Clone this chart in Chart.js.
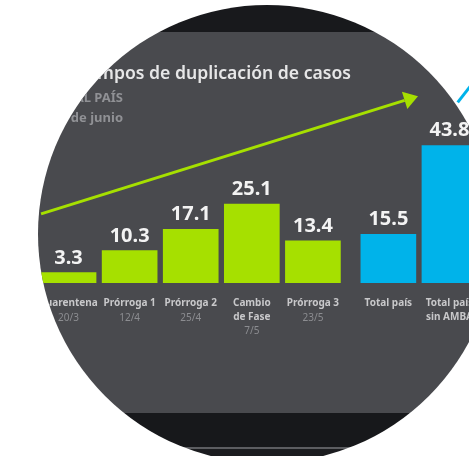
<!DOCTYPE html>
<html>
<head>
<meta charset="utf-8">
<script src="https://cdn.jsdelivr.net/npm/chart.js@4"></script>
<style>
    html, body { margin: 0; padding: 0; background: #ffffff; }
    #frame { position: relative; width: 469px; height: 456px; overflow: hidden; }
    #chart { position: absolute; left: 0; top: 0; }
</style>
</head>
<body>
<div id="frame">
    <canvas id="chart" width="520" height="456"></canvas>
</div>
<script>
// data
const categories = [
    ['Cuarentena'], ['Prórroga 1'], ['Prórroga 2'], ['Cambio', 'de Fase'],
    ['Prórroga 3'], ['Total país'], ['Total país', 'sin AMBA'],
];
const dates = ['20/3', '12/4', '25/4', '7/5', '23/5', '', ''];
const values = [3.3, 10.3, 17.1, 25.1, 13.4, 15.5, 43.8];
const groups = [0, 0, 0, 0, 0, 1, 1]; // 0 = etapas, 1 = totales
const titleLines = ['Tiempos de duplicación de casos', 'TOTAL PAÍS', 'Al 2 de junio'];
// trend arrows, in chart units [x, y]
const greenArrow = [[-0.45, 22], [5.72, 59.5]];
const blueArrow = [[6.37, 57.5], [6.75, 67]];

const GREEN = '#a6e000';
const BLUE = '#00b3ea';
const GROUP_GAP = 0.235;

const positions = values.map((v, i) => i + groups[i] * GROUP_GAP);
const points = values.map((v, i) => ({ x: positions[i], y: v }));

// round photo crop + screen bands behind the chart
const LENS = { x: 267, y: 234, r: 229 };
const BANDS = [
    [0, 32, '#18191c'],
    [32, 413, '#494a4e'],
    [413, 447, '#17181b'],
    [447, 449, '#5c5d61'],
    [449, 456, '#1b1c1f'],
];

function drawArrow(ctx, x0, y0, x1, y1, color, head) {
    ctx.save();
    ctx.strokeStyle = color;
    ctx.fillStyle = color;
    ctx.lineWidth = 3;
    ctx.lineCap = 'butt';
    const a = Math.atan2(y1 - y0, x1 - x0);
    const bx = head ? x1 - Math.cos(a) * 14 : x1;
    const by = head ? y1 - Math.sin(a) * 14 : y1;
    ctx.beginPath();
    ctx.moveTo(x0, y0);
    ctx.lineTo(bx, by);
    ctx.stroke();
    if (head) {
        ctx.beginPath();
        ctx.moveTo(x1, y1);
        ctx.lineTo(bx + Math.cos(a + Math.PI / 2) * 9, by + Math.sin(a + Math.PI / 2) * 9);
        ctx.lineTo(bx + Math.cos(a - Math.PI / 2) * 9, by + Math.sin(a - Math.PI / 2) * 9);
        ctx.closePath();
        ctx.fill();
    }
    ctx.restore();
}

const decorations = {
    id: 'decorations',
    beforeDraw(chart) {
        const { ctx, width, height } = chart;
        ctx.fillStyle = '#ffffff';
        ctx.fillRect(0, 0, width, height);
        ctx.save(); // released in afterDraw
        ctx.beginPath();
        ctx.arc(LENS.x, LENS.y, LENS.r, 0, Math.PI * 2);
        ctx.clip();
        BANDS.forEach(([y0, y1, c]) => {
            ctx.fillStyle = c;
            ctx.fillRect(0, y0, width, y1 - y0);
        });
    },
    beforeDatasetsDraw(chart) {
        const { ctx, scales: { x, y } } = chart;
        // title block
        ctx.save();
        ctx.textAlign = 'right';
        ctx.textBaseline = 'alphabetic';
        ctx.fillStyle = '#e6e6e7';
        ctx.font = '600 17.6px "Noto Sans"';
        ctx.fillText(titleLines[0], 351, 79);
        ctx.fillStyle = '#909195';
        ctx.font = 'bold 13px "Noto Sans"';
        ctx.fillText(titleLines[1], 123, 102);
        ctx.fillText(titleLines[2], 123, 122);
        ctx.restore();

        drawArrow(ctx,
            x.getPixelForValue(greenArrow[0][0]), y.getPixelForValue(greenArrow[0][1]),
            x.getPixelForValue(greenArrow[1][0]), y.getPixelForValue(greenArrow[1][1]),
            GREEN, true);
    },
    afterDatasetsDraw(chart) {
        const { ctx, chartArea } = chart;
        const bars = chart.getDatasetMeta(0).data;
        ctx.save();
        ctx.textAlign = 'center';
        bars.forEach((bar, i) => {
            // value above bar
            ctx.fillStyle = '#f3f3f3';
            ctx.font = 'bold 20px "Noto Sans"';
            ctx.textBaseline = 'alphabetic';
            ctx.fillText(values[i].toFixed(1), bar.x, bar.y - 9);

            // category + date under bar
            let ly = chartArea.bottom + 23;
            ctx.font = 'bold 10px "Noto Sans"';
            ctx.fillStyle = '#c8c8ca';
            categories[i].forEach(line => {
                ctx.fillText(line, bar.x, ly);
                ly += 13.5;
            });
            if (dates[i]) {
                ctx.font = '10px "Noto Sans"';
                ctx.fillStyle = '#8c8d91';
                ctx.fillText(dates[i], bar.x, ly + 1);
            }
        });
        ctx.restore();
    },
    afterDraw(chart) {
        const { ctx, scales: { x, y } } = chart;
        ctx.restore(); // drop the lens clip
        // the blue arrow sticks out of the round crop
        drawArrow(ctx,
            x.getPixelForValue(blueArrow[0][0]), y.getPixelForValue(blueArrow[0][1]),
            x.getPixelForValue(blueArrow[1][0]), y.getPixelForValue(blueArrow[1][1]),
            BLUE, false);
    },
};

new Chart(document.getElementById('chart'), {
    type: 'bar',
    data: {
        datasets: [{
            data: points,
            backgroundColor: groups.map(g => (g ? BLUE : GREEN)),
            borderWidth: 0,
            barThickness: 55,
        }],
    },
    options: {
        responsive: false,
        animation: false,
        events: [],
        layout: { padding: { left: 38, right: 40, top: 126, bottom: 173 } },
        plugins: {
            legend: { display: false },
            tooltip: { enabled: false },
        },
        scales: {
            x: {
                type: 'linear',
                offset: false,
                min: -0.5,
                max: positions[positions.length - 1] + 0.5,
                display: false,
            },
            y: {
                min: 0,
                max: 50,
                display: false,
            },
        },
    },
    plugins: [decorations],
});
</script>
</body>
</html>
